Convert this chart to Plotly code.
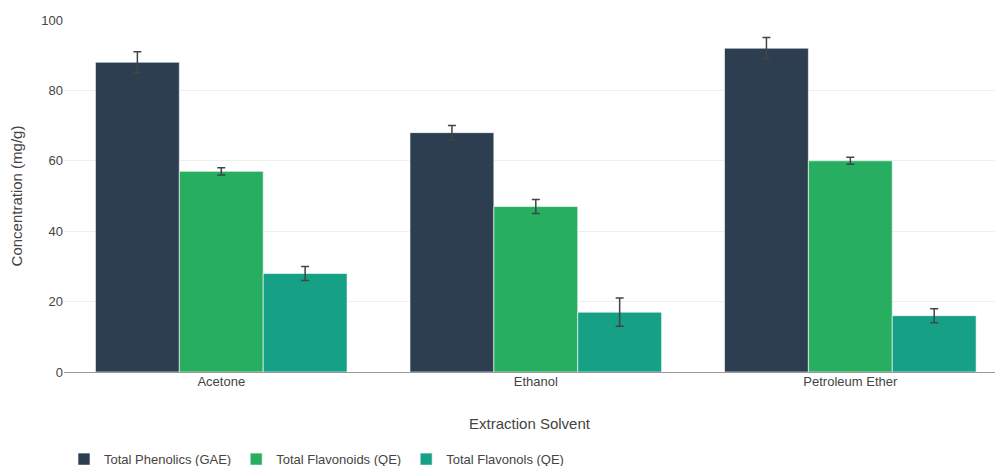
import plotly.graph_objects as go

solvents = ["Acetone", "Ethanol", "Petroleum Ether"]
series_names = ["Total Phenolics (GAE)", "Total Flavonoids (QE)", "Total Flavonols (QE)"]
phenolics = [88, 68, 92]
phenolics_err = [3, 2, 3]
flavonoids = [57, 47, 60]
flavonoids_err = [1, 2, 1]
flavonols = [28, 17, 16]
flavonols_err = [2, 4, 2]
colors = ["#2c3e50", "#27ae60", "#16a085"]

values = [phenolics, flavonoids, flavonols]
errors = [phenolics_err, flavonoids_err, flavonols_err]

fig = go.Figure()
for name, vals, errs, col in zip(series_names, values, errors, colors):
    fig.add_trace(go.Bar(
        x=solvents, y=vals, name=name,
        marker=dict(color=col, line=dict(color="rgba(255,255,255,0.6)", width=1)),
        error_y=dict(type="data", array=errs, visible=True, color="#444", thickness=1.5, width=4),
    ))

fig.update_layout(
    width=995, height=466,
    barmode="group", bargap=0.2, bargroupgap=0,
    plot_bgcolor="white", paper_bgcolor="white",
    font=dict(family="Liberation Sans, Arial, sans-serif", size=13, color="#444"),
    margin=dict(l=64, r=0, t=20, b=94, autoexpand=False),
    xaxis=dict(
        title=dict(text="Extraction Solvent", font=dict(size=15), standoff=30),
        range=[-0.5, 2.46], showgrid=False, tickfont=dict(size=13),
    ),
    yaxis=dict(
        title=dict(text="Concentration (mg/g)", font=dict(size=15)),
        range=[0, 100], dtick=20, gridcolor="#eeeeee", tickfont=dict(size=13),
        zeroline=True, zerolinecolor="#999", zerolinewidth=1,
    ),
    legend=dict(orientation="h", x=0, xanchor="left", y=-0.205, yanchor="top",
                font=dict(size=13)),
)

fig.write_html("out.html")
